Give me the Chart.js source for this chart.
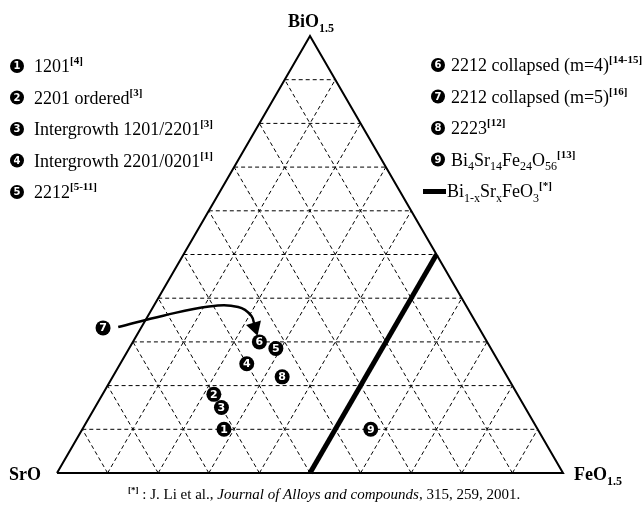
<!DOCTYPE html>
<html>
<head>
<meta charset="utf-8">
<script src="https://cdn.jsdelivr.net/npm/chart.js@4.4.0/dist/chart.umd.min.js"></script>
<style>
  html, body { margin: 0; padding: 0; background: #fff; }
  #wrap { position: relative; width: 642px; height: 505px; }
</style>
</head>
<body>
<div id="wrap"><canvas id="ternary"></canvas></div>
<script>
// phase compositions (molar fractions of BiO1.5 and FeO1.5, SrO is the rest)
const phaseLabels = ['1', '2', '3', '4', '5', '6', '8', '9'];
const phaseBi = [0.10, 0.18, 0.15, 0.25, 0.285, 0.30, 0.22, 0.10];
const phaseFe = [0.28, 0.22, 0.25, 0.25, 0.29, 0.25, 0.335, 0.57];

// Bi1-xSrxFeO3 solid solution, from SrFeO to BiFeO
const solidBi = [0.0, 0.5];
const solidFe = [0.5, 0.5];

// marker 7 sits outside the triangle, the arrow points to its composition
const sevenBi = [0.332];
const sevenFe = [-0.075];
const arrowBi = [0.334, 0.360, 0.381, 0.380, 0.360, 0.334];
const arrowFe = [-0.046, 0.030, 0.110, 0.168, 0.204, 0.224];

// grid every 10 %
const gridSteps = [0.1, 0.2, 0.3, 0.4, 0.5, 0.6, 0.7, 0.8, 0.9];

const H = Math.sqrt(3) / 2;
const toXY = (bi, fe) => ({ x: fe + bi / 2, y: bi * H });

const gridSets = [];
gridSteps.forEach((c) => {
    // Bi constant, Fe constant, Sr constant
    [[toXY(c, 0), toXY(c, 1 - c)],
     [toXY(0, c), toXY(1 - c, c)],
     [toXY(0, 1 - c), toXY(1 - c, 0)]].forEach((seg) => {
        gridSets.push({
            data: seg, showLine: true, borderColor: '#000', borderWidth: 1,
            borderDash: [4, 3], pointRadius: 0, clip: false
        });
    });
});

const phasePts = phaseBi.map((b, i) => toXY(b, phaseFe[i]));
const arrowPts = arrowBi.map((b, i) => toXY(b, arrowFe[i]));

// white digits on the black markers
const digitPlugin = {
    id: 'digits',
    afterDatasetsDraw(chart) {
        const ctx = chart.ctx;
        ctx.save();
        ctx.fillStyle = '#fff';
        ctx.font = 'bold 11px "DejaVu Sans"';
        ctx.textAlign = 'center';
        ctx.textBaseline = 'middle';
        chart.getDatasetMeta(0).data.forEach((el, i) => ctx.fillText(phaseLabels[i], el.x, el.y + 0.5));
        chart.getDatasetMeta(1).data.forEach((el) => ctx.fillText('7', el.x, el.y + 0.5));
        ctx.restore();
    }
};

function rich(ctx, x, y, parts, size, align) {
    const fontOf = (k) => {
        if (k === 'sup') return 'bold ' + Math.round(size * 0.6) + 'px "Liberation Serif"';
        if (k === 'sub') return (parts.bold ? 'bold ' : '') + Math.round(size * 0.66) + 'px "Liberation Serif"';
        if (k === 'i') return 'italic ' + size + 'px "Liberation Serif"';
        return (parts.bold ? 'bold ' : '') + size + 'px "Liberation Serif"';
    };
    let w = 0;
    parts.forEach(([t, k]) => { ctx.font = fontOf(k); w += ctx.measureText(t).width; });
    let cx = align === 'center' ? x - w / 2 : x;
    parts.forEach(([t, k]) => {
        ctx.font = fontOf(k);
        const dy = k === 'sup' ? -size * 0.42 : (k === 'sub' ? size * 0.25 : 0);
        ctx.fillText(t, cx, y + dy);
        cx += ctx.measureText(t).width;
    });
}

function badge(ctx, x, y, n) {
    ctx.beginPath();
    ctx.arc(x, y, 7, 0, Math.PI * 2);
    ctx.fillStyle = '#000';
    ctx.fill();
    ctx.fillStyle = '#fff';
    ctx.font = 'bold 10px "DejaVu Sans"';
    ctx.textAlign = 'center';
    ctx.textBaseline = 'middle';
    ctx.fillText(n, x, y + 0.5);
    ctx.textAlign = 'left';
    ctx.textBaseline = 'alphabetic';
    ctx.fillStyle = '#000';
}

const textPlugin = {
    id: 'texts',
    afterDraw(chart) {
        const ctx = chart.ctx;
        ctx.save();
        ctx.fillStyle = '#000';
        ctx.textBaseline = 'alphabetic';

        // corner labels
        const bio = [['BiO', ''], ['1.5', 'sub']]; bio.bold = true;
        rich(ctx, 311, 27, bio, 18, 'center');
        const sro = [['SrO', '']]; sro.bold = true;
        rich(ctx, 9, 480, sro, 18);
        const feo = [['FeO', ''], ['1.5', 'sub']]; feo.bold = true;
        rich(ctx, 574, 480, feo, 18);

        // left legend
        const left = [
            [['1201', ''], ['[4]', 'sup']],
            [['2201 ordered', ''], ['[3]', 'sup']],
            [['Intergrowth 1201/2201', ''], ['[3]', 'sup']],
            [['Intergrowth 2201/0201', ''], ['[1]', 'sup']],
            [['2212', ''], ['[5-11]', 'sup']]
        ];
        left.forEach((p, i) => {
            const y = 66 + i * 31.5;
            badge(ctx, 17, y, String(i + 1));
            rich(ctx, 34, y + 6, p, 18);
        });

        // right legend
        const right = [
            ['6', [['2212 collapsed (m=4)', ''], ['[14-15]', 'sup']]],
            ['7', [['2212 collapsed (m=5)', ''], ['[16]', 'sup']]],
            ['8', [['2223', ''], ['[12]', 'sup']]],
            ['9', [['Bi', ''], ['4', 'sub'], ['Sr', ''], ['14', 'sub'], ['Fe', ''], ['24', 'sub'], ['O', ''], ['56', 'sub'], ['[13]', 'sup']]]
        ];
        right.forEach(([n, p], i) => {
            const y = 65 + i * 31.5;
            badge(ctx, 438, y, n);
            rich(ctx, 451, y + 6, p, 18);
        });
        const ly = 65 + 4 * 31.5;
        ctx.fillRect(423, ly - 2, 23, 5);
        rich(ctx, 447, ly + 6, [['Bi', ''], ['1-x', 'sub'], ['Sr', ''], ['x', 'sub'], ['FeO', ''], ['3', 'sub'], ['[*]', 'sup']], 18);

        // reference note
        rich(ctx, 128, 499, [['[*]', 'sup'], [' : J. Li et al., ', ''], ['Journal of Alloys and compounds', 'i'], [', 315, 259, 2001.', '']], 15);
        ctx.restore();
    }
};

new Chart(document.getElementById('ternary'), {
    type: 'scatter',
    data: {
        datasets: [
            {
                data: phasePts, pointRadius: 7.5, pointBackgroundColor: '#000',
                pointBorderColor: '#000', pointBorderWidth: 0, clip: false
            },
            {
                data: sevenBi.map((b, i) => toXY(b, sevenFe[i])), pointRadius: 7.5,
                pointBackgroundColor: '#000', pointBorderWidth: 0, clip: false
            },
            {
                data: arrowPts, showLine: true, tension: 0.4, borderColor: '#000', borderWidth: 2.5,
                pointStyle: 'triangle', pointBackgroundColor: '#000', pointBorderWidth: 0,
                pointRadius: (c) => c.dataIndex === arrowPts.length - 1 ? 9 : 0,
                pointRotation: (c) => {
                    const sx = c.chart.scales.x, sy = c.chart.scales.y;
                    const a = arrowPts[arrowPts.length - 2], b = arrowPts[arrowPts.length - 1];
                    const dx = sx.getPixelForValue(b.x) - sx.getPixelForValue(a.x);
                    const dy = sy.getPixelForValue(b.y) - sy.getPixelForValue(a.y);
                    return 90 + Math.atan2(dy, dx) * 180 / Math.PI;
                },
                clip: false
            },
            {
                data: solidBi.map((b, i) => toXY(b, solidFe[i])), showLine: true,
                borderColor: '#000', borderWidth: 5, pointRadius: 0, borderCapStyle: 'butt', clip: false
            },
            {
                data: [toXY(0, 0), toXY(0, 1), toXY(1, 0), toXY(0, 0)], showLine: true,
                borderColor: '#000', borderWidth: 2, pointRadius: 0, borderJoinStyle: 'miter', clip: false
            },
            ...gridSets
        ]
    },
    options: {
        responsive: true,
        maintainAspectRatio: false,
        animation: false,
        events: [],
        layout: { padding: { left: 57, right: 79, top: 36, bottom: 32 } },
        plugins: { legend: { display: false }, tooltip: { enabled: false } },
        scales: {
            x: { type: 'linear', min: 0, max: 1, display: false },
            y: { type: 'linear', min: 0, max: H, display: false }
        }
    },
    plugins: [digitPlugin, textPlugin]
});
</script>
</body>
</html>
